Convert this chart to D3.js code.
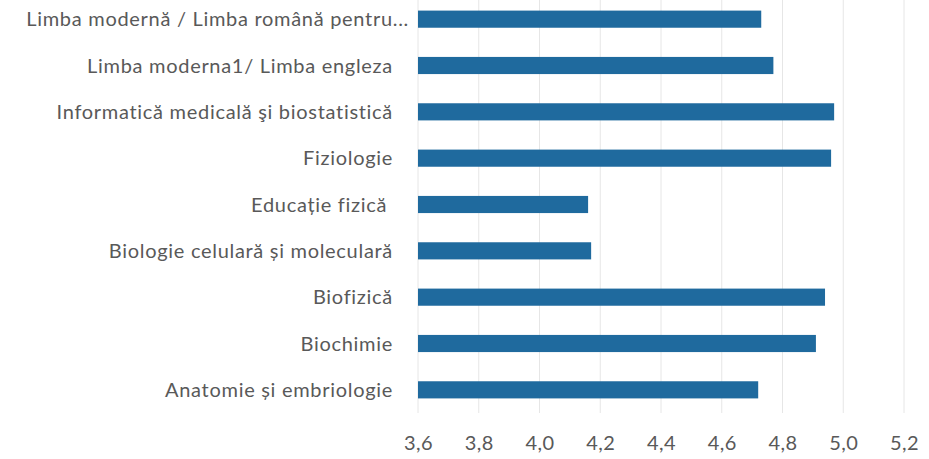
<!DOCTYPE html>
<html>
<head>
<meta charset="utf-8">
<script src="https://d3js.org/d3.v7.min.js"></script>
<style>
  body { margin: 0; background: #fff; }
  text { font-family: Lato, "Open Sans", sans-serif; fill: #595959; white-space: pre; }
</style>
</head>
<body>
<svg width="929" height="459"></svg>
<script>
// subjects from top to bottom
var subjects = [
  "Limba modernă / Limba română pentru...",
  "Limba moderna1/ Limba engleza",
  "Informatică medicală şi biostatistică",
  "Fiziologie",
  "Educație fizică ",
  "Biologie celulară și moleculară",
  "Biofizică",
  "Biochimie",
  "Anatomie și embriologie"
];
var scores = [4.73, 4.77, 4.97, 4.96, 4.16, 4.17, 4.94, 4.91, 4.72];
var ticks = [3.6, 3.8, 4.0, 4.2, 4.4, 4.6, 4.8, 5.0, 5.2];

var svg = d3.select("svg"),
    plotLeft = 418, plotRight = 904, plotTop = -4, plotBottom = 413;

var x = d3.scaleLinear()
    .domain([3.6, 5.2])
    .range([plotLeft, plotRight]);
var y = d3.scaleBand()
    .domain(subjects)
    .range([plotTop, plotBottom])
    .paddingInner(0.63)
    .paddingOuter(0.315);

// vertical gridlines
svg.selectAll(".grid")
    .data(ticks)
    .enter().append("line")
      .attr("x1", function(d){ return x(d); })
      .attr("x2", function(d){ return x(d); })
      .attr("y1", 0)
      .attr("y2", plotBottom)
      .style("stroke", "#e6e6e6")
      .style("stroke-width", 1);

svg.selectAll(".bar")
    .data(subjects)
    .enter().append("rect")
      .attr("x", x(3.6))
      .attr("y", function(d){ return y(d); })
      .attr("width", function(d, i){ return x(scores[i]) - x(3.6); })
      .attr("height", y.bandwidth())
      .style("fill", "#1f6a9e");

// category labels
svg.selectAll(".label")
    .data(subjects)
    .enter().append("text")
      .attr("x", function(d){ return d.endsWith("...") ? 409 : 393; })
      .attr("y", function(d){ return y(d) + y.bandwidth() / 2; })
      .attr("dy", "0.36em")
      .style("text-anchor", "end")
      .style("font-size", "20px")
      .style("letter-spacing", "0.7px")
      .text(function(d){ return d; });

// x axis tick labels
var xAxis = d3.axisBottom(x)
    .tickValues(ticks)
    .tickSize(0)
    .tickFormat(function(d){ return d3.format(".1f")(d).replace(".", ","); });
var ax = svg.append("g")
    .attr("transform", "translate(0," + 436 + ")")
    .call(xAxis);
ax.select(".domain").remove();
ax.selectAll("text")
    .attr("y", 0)
    .attr("dy", "0.71em")
    .style("font-size", "20px")
    .style("letter-spacing", "0.5px")
    .style("font-family", "Lato, 'Open Sans', sans-serif")
    .style("fill", "#595959");
</script>
</body>
</html>
